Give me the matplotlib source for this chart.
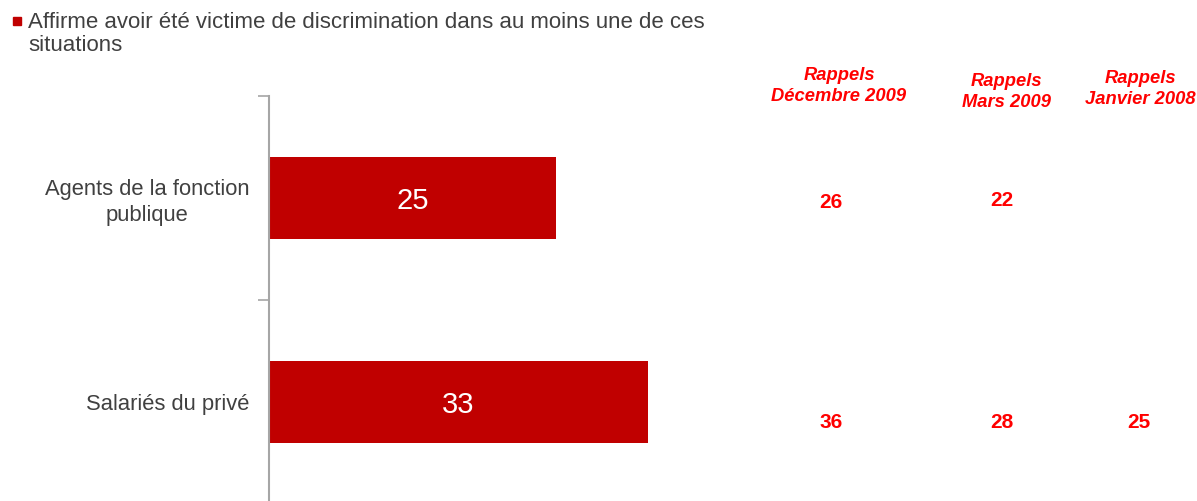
import matplotlib
matplotlib.use("Agg")
import matplotlib.pyplot as plt
from matplotlib.patches import Rectangle

categories = ["Agents de la fonction\npublique", "Salariés du privé"]
values = [25, 33]
series_label = "Affirme avoir été victime de discrimination dans au moins une de ces\nsituations"
recall_headers = ["Rappels\nDécembre 2009", "Rappels\nMars 2009", "Rappels\nJanvier 2008"]
recall_values = [[26, 36], [22, 28], [None, 25]]

plt.rcParams['font.family'] = ['Liberation Sans', 'DejaVu Sans']
W, H = 1197, 501
fig = plt.figure(figsize=(W / 100, H / 100), dpi=100)

bar_color = "#C00000"
text_gray = "#404040"
red = "#FF0000"

x0 = 269
px_per_unit = 11.48
ax_top, ax_bot = 96, 504
ax = fig.add_axes([x0 / W, 1 - ax_bot / H, (W - x0) / W, (ax_bot - ax_top) / H])
ax.set_xlim(0, (W - x0) / px_per_unit)
ax.set_ylim(1.5, -0.5)
ax.patch.set_alpha(0)

ypos = list(range(len(categories)))
ax.barh(ypos, values, height=0.405, color=bar_color, zorder=2)
for y, v in zip(ypos, values):
    ax.text(v / 2, y, str(v), color="white", fontsize=21, ha="center",
            va="center_baseline", zorder=3)

for s in ["top", "right", "bottom"]:
    ax.spines[s].set_visible(False)
ax.spines["left"].set_color("#A6A6A6")
ax.spines["left"].set_linewidth(1.5)
ax.set_xticks([])
ax.set_yticks(ypos)
ax.set_yticklabels(categories, fontsize=15.8, color=text_gray, ha="right",
                   multialignment="center", linespacing=1.25)
ax.tick_params(axis="y", which="major", length=0, pad=14)
ax.set_yticks([-0.5, 0.5, 1.5], minor=True)
ax.tick_params(axis="y", which="minor", length=8, width=1.2, color="#A6A6A6")

# Recall columns (figure pixel positions for columns)
head_x = [839, 1006, 1140]
head_y = [86, 92, 89]
col_x = [831, 1002, 1139]
val_y = [[202, 423], [200, 423], [None, 423]]
for hx, hy, cx, hdr, vals, vys in zip(head_x, head_y, col_x, recall_headers, recall_values, val_y):
    fig.text(hx / W, 1 - hy / H, hdr, color=red, fontsize=13.2, fontweight="bold",
             fontstyle="italic", ha="center", va="center", linespacing=1.3)
    for v, vy in zip(vals, vys):
        if v is None:
            continue
        fig.text(cx / W, 1 - vy / H, str(v), color=red, fontsize=15, fontweight="bold",
                 ha="center", va="center")

# Legend
fig.patches.append(Rectangle((13 / W, 1 - 25 / H), 8 / W, 8 / H, transform=fig.transFigure,
                             color=bar_color, figure=fig))
fig.text(28 / W, 1 - 34 / H, series_label, color=text_gray, fontsize=16, ha="left",
         va="center", linespacing=1.17)

fig.savefig("out.png", dpi=100)
